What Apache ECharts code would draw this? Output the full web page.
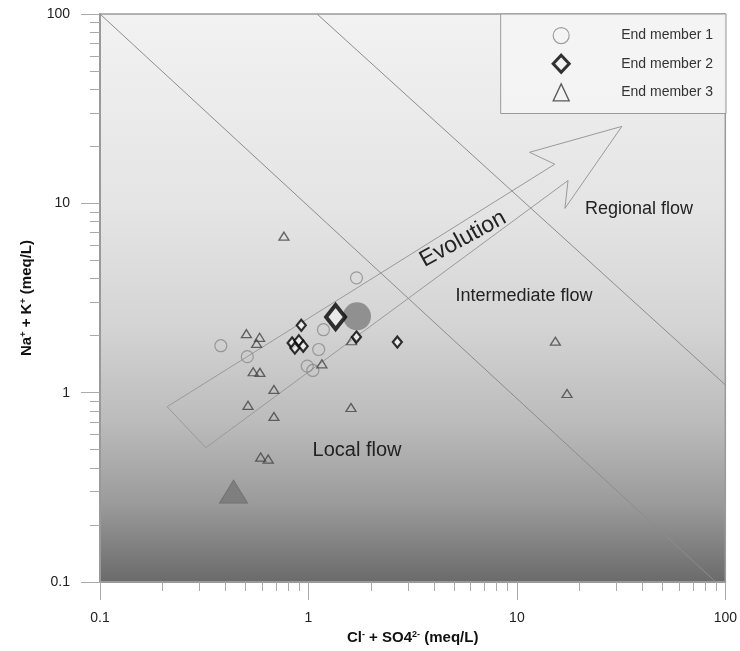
<!DOCTYPE html>
<html>
<head>
<meta charset="utf-8">
<script src="https://cdn.jsdelivr.net/npm/echarts@6/dist/echarts.min.js"></script>
<style>
html,body{margin:0;padding:0;background:#fff;}
#chart{width:740px;height:651px;}
</style>
</head>
<body>
<div id="chart"></div>
<script>
// ---- Data (meq/L) ----
var seriesNames = ['End member 1', 'End member 2', 'End member 3'];
var axisTickValues = [0.1, 1, 10, 100];
var minorTickValues = [0.2,0.3,0.4,0.5,0.6,0.7,0.8,0.9,2,3,4,5,6,7,8,9,20,30,40,50,60,70,80,90];

// End member 1 (circles)
var em1X = [1.70, 1.18, 1.12, 0.987, 1.05, 0.380, 0.509];
var em1Y = [4.04, 2.15, 1.69, 1.38, 1.31, 1.77, 1.55];
var em1Centre = [1.71, 2.53];

// End member 2 (diamonds)
var em2X = [0.924, 0.835, 0.900, 0.944, 0.861, 1.70, 2.67];
var em2Y = [2.27, 1.83, 1.88, 1.76, 1.72, 1.97, 1.85];
var em2Centre = [1.35, 2.51];

// End member 3 (triangles)
var em3X = [0.763, 0.504, 0.583, 0.564, 0.543, 0.585, 0.683, 1.16, 0.513, 1.60, 0.683, 0.590, 0.641, 1.61, 15.3, 17.4];
var em3Y = [6.71, 2.05, 1.96, 1.82, 1.29, 1.28, 1.04, 1.42, 0.857, 0.835, 0.749, 0.457, 0.446, 1.88, 1.87, 0.99];
var em3Centre = [0.437, 0.30];

// Flow-system boundaries
var localBoundary = [[0.1, 100], [90, 0.1]];
var regionalBoundary = [[1.1, 100], [100, 1.1]];

// Evolution arrow outline
var evolutionArrow = [[0.210, 0.843], [15.2, 16.1], [11.5, 18.6], [31.9, 25.5], [17.0, 9.4], [17.6, 13.2], [0.322, 0.512], [0.210, 0.843]];

function pairs(xs, ys) { return xs.map(function (x, i) { return [x, ys[i]]; }); }

var FONT = 'Liberation Sans, Arial, sans-serif';
var chart = echarts.init(document.getElementById('chart'), null, {renderer: 'canvas'});

var circleStyle = {color: 'rgba(0,0,0,0)', borderColor: '#8a8a8a', borderWidth: 1.2};
var diamondStyle = {color: '#f2f2f2', borderColor: '#000', borderWidth: 2.2};
var triangleStyle = {color: 'rgba(0,0,0,0)', borderColor: '#444', borderWidth: 1.3};

var option = {
  animation: false,
  backgroundColor: '#ffffff',
  textStyle: {fontFamily: FONT},
  grid: {
    left: 100, right: 14, top: 14, bottom: 69,
    show: true,
    borderColor: '#9a9a9a', borderWidth: 1.5,
    backgroundColor: {
      type: 'linear', x: 0, y: 0, x2: 0, y2: 1,
      colorStops: [
        {offset: 0, color: '#f2f2f2'},
        {offset: 0.35, color: '#e4e4e4'},
        {offset: 0.55, color: '#d4d4d4'},
        {offset: 0.72, color: '#bbbbbb'},
        {offset: 0.86, color: '#9b9b9b'},
        {offset: 1, color: '#6a6a6a'}
      ]
    }
  },
  legend: {
    data: [
      {name: seriesNames[0], icon: 'circle', itemStyle: {color: 'rgba(0,0,0,0)', borderColor: '#888', borderWidth: 1.2}},
      {name: seriesNames[1], icon: 'diamond', itemStyle: {color: '#f2f2f2', borderColor: '#000', borderWidth: 3}},
      {name: seriesNames[2], icon: 'triangle', itemStyle: {color: 'rgba(0,0,0,0)', borderColor: '#333', borderWidth: 1.3}}
    ],
    orient: 'vertical',
    right: 14, top: 14,
    width: 226,
    itemWidth: 16, itemHeight: 17,
    itemGap: 9.5,
    padding: [13, 13, 12, 51],
    backgroundColor: 'rgba(244,244,244,0.9)',
    borderColor: '#9a9a9a', borderWidth: 1,
    selectedMode: false,
    textStyle: {fontSize: 14, color: '#333', fontFamily: FONT, padding: [0, 0, 0, 47]}
  },
  xAxis: [
    {
      type: 'log', logBase: 10, min: 0.1, max: 100, position: 'bottom',
      axisLine: {show: true, onZero: false, lineStyle: {color: '#999', width: 2}},
      axisTick: {show: true, length: 18, lineStyle: {color: '#aaa', width: 1}},
      axisLabel: {margin: 29, fontSize: 14, color: '#222', fontFamily: FONT, customValues: axisTickValues},
      splitLine: {show: false},
      name: 'Cl{sup|-} + SO4{sup|2-} (meq/L)',
      nameLocation: 'middle', nameGap: 48,
      nameTextStyle: {
        fontSize: 15, fontWeight: 'bold', color: '#111', fontFamily: FONT,
        rich: {sup: {fontSize: 9, fontWeight: 'bold', verticalAlign: 'top', color: '#111', fontFamily: FONT}}
      }
    },
    {
      type: 'log', logBase: 10, min: 0.1, max: 100, position: 'bottom',
      axisLine: {show: false, onZero: false},
      axisTick: {show: true, length: 9, customValues: minorTickValues, lineStyle: {color: '#aaa', width: 1}},
      axisLabel: {show: false},
      splitLine: {show: false}
    }
  ],
  yAxis: [
    {
      type: 'log', logBase: 10, min: 0.1, max: 100, position: 'left',
      axisLine: {show: true, onZero: false, lineStyle: {color: '#999', width: 2}},
      axisTick: {show: true, length: 19, lineStyle: {color: '#aaa', width: 1}},
      axisLabel: {margin: 30, fontSize: 14, color: '#222', fontFamily: FONT, customValues: axisTickValues},
      splitLine: {show: false},
      name: 'Na{sup|+} + K{sup|+} (meq/L)',
      nameLocation: 'middle', nameGap: 66,
      nameTextStyle: {
        fontSize: 15, fontWeight: 'bold', color: '#111', fontFamily: FONT,
        rich: {sup: {fontSize: 9, fontWeight: 'bold', verticalAlign: 'top', color: '#111', fontFamily: FONT}}
      }
    },
    {
      type: 'log', logBase: 10, min: 0.1, max: 100, position: 'left',
      axisLine: {show: false, onZero: false},
      axisTick: {show: true, length: 10, customValues: minorTickValues, lineStyle: {color: '#aaa', width: 1}},
      axisLabel: {show: false},
      splitLine: {show: false}
    }
  ],
  graphic: [
    {type: 'text', x: 463, y: 239, rotation: 0.50, z: 50,
      style: {text: 'Evolution', fontSize: 23, fontFamily: FONT, fill: '#222', align: 'center', verticalAlign: 'middle'}},
    {type: 'text', x: 639, y: 209, z: 50,
      style: {text: 'Regional flow', fontSize: 18, fontFamily: FONT, fill: '#222', align: 'center', verticalAlign: 'middle'}},
    {type: 'text', x: 524, y: 296, z: 50,
      style: {text: 'Intermediate flow', fontSize: 18, fontFamily: FONT, fill: '#222', align: 'center', verticalAlign: 'middle'}},
    {type: 'text', x: 357, y: 450, z: 50,
      style: {text: 'Local flow', fontSize: 20, fontFamily: FONT, fill: '#222', align: 'center', verticalAlign: 'middle'}}
  ],
  series: [
    {type: 'line', name: 'boundary1', data: localBoundary, symbol: 'none', silent: true, z: 1,
      lineStyle: {color: '#8c8c8c', width: 1}},
    {type: 'line', name: 'boundary2', data: regionalBoundary, symbol: 'none', silent: true, z: 1,
      lineStyle: {color: '#8c8c8c', width: 1}},
    {type: 'line', name: 'arrow', data: evolutionArrow, symbol: 'none', silent: true, z: 1,
      lineStyle: {color: '#9a9a9a', width: 1}},
    {type: 'scatter', name: seriesNames[0], data: pairs(em1X, em1Y), symbol: 'circle', symbolSize: 12, z: 3,
      itemStyle: circleStyle},
    {type: 'scatter', name: seriesNames[1], data: pairs(em2X, em2Y), symbol: 'diamond', symbolSize: [9, 11], z: 4,
      itemStyle: diamondStyle},
    {type: 'scatter', name: seriesNames[2], data: pairs(em3X, em3Y), symbol: 'triangle', symbolSize: [10, 8], z: 3,
      itemStyle: triangleStyle},
    {type: 'scatter', name: 'em1 centre', data: [em1Centre], symbol: 'circle', symbolSize: 28, z: 5,
      itemStyle: {color: '#7e7e7e'}},
    {type: 'scatter', name: 'em2 centre', data: [em2Centre], symbol: 'diamond', symbolSize: [19, 24], z: 6,
      itemStyle: {color: '#eeeeee', borderColor: '#000', borderWidth: 4}},
    {type: 'scatter', name: 'em3 centre', data: [em3Centre], symbol: 'triangle', symbolSize: [28, 23], z: 5,
      itemStyle: {color: '#777777', borderColor: '#6a6a6a', borderWidth: 1}}
  ]
};
chart.setOption(option);
</script>
</body>
</html>
